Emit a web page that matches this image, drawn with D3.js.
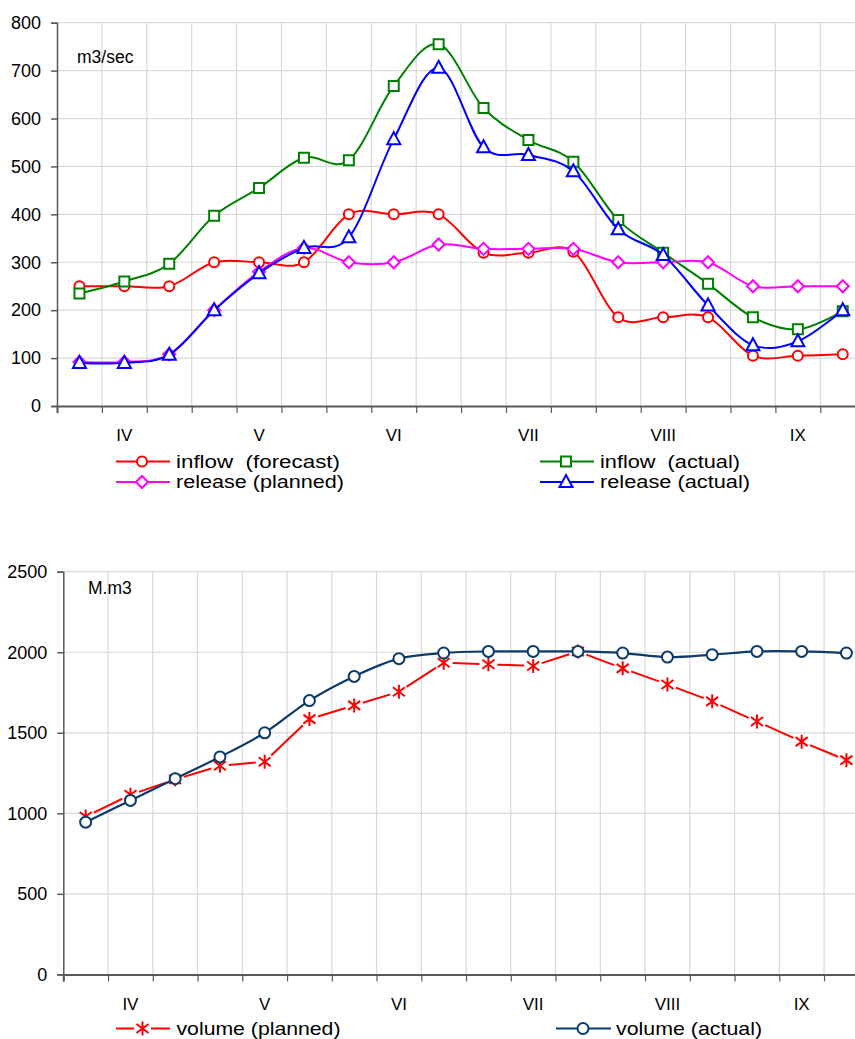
<!DOCTYPE html>
<html>
<head>
<meta charset="utf-8">
<script src="https://cdn.jsdelivr.net/npm/d3@7"></script>
<style>
  html, body { margin: 0; padding: 0; background: #fff; overflow: hidden; }
  svg { display: block; font-family: "Liberation Sans", Arial, sans-serif; }
</style>
</head>
<body>
<svg id="chart" width="855" height="1039"></svg>
<script>
// ---------- DATA ----------
const decades = ["IV-1","IV-2","IV-3","V-1","V-2","V-3","VI-1","VI-2","VI-3",
                 "VII-1","VII-2","VII-3","VIII-1","VIII-2","VIII-3","IX-1","IX-2","IX-3"];
const months = ["IV","V","VI","VII","VIII","IX"];

const inflowForecast = [250,250,250,300,300,300,400,400,400,320,320,322,185,185,185,105,105,108];
const inflowActual   = [235,260,297,397,455,518,513,668,755,622,555,510,388,320,255,185,160,198];
const releasePlanned = [92,92,108,200,280,330,300,300,337,328,328,328,300,300,300,250,250,250];
const releaseActual  = [90,90,107,200,277,330,352,557,706,540,524,490,369,315,210,127,135,200];

const volumePlanned = [980,1115,1210,1295,1320,1585,1670,1755,1935,1925,1915,2005,1900,1800,1695,1570,1445,1330];
const volumeActual  = [945,1080,1215,1350,1500,1700,1850,1960,1995,2005,2005,2005,1995,1970,1985,2005,2005,1995];

const flowTicks = [0,100,200,300,400,500,600,700,800];
const volTicks = [0,500,1000,1500,2000,2500];

const flowSeries = [
  {name:"inflow  (forecast)", values: inflowForecast, color:"#ff0000", marker:"circle"},
  {name:"inflow  (actual)",   values: inflowActual,   color:"#008000", marker:"square"},
  {name:"release (planned)",  values: releasePlanned, color:"#ff00ff", marker:"diamond"},
  {name:"release (actual)",   values: releaseActual,  color:"#0000ff", marker:"triangle"}
];

// ---------- SETUP ----------
const svg = d3.select("#chart");
const gridColor = "#d9d9d9";
const axisColor = "#595959";

function markerPath(type) {
  switch (type) {
    case "circle": return null;
    case "square": return "M-5,-5H5V5H-5Z";
    case "diamond": return "M0,-6L6,0L0,6L-6,0Z";
    case "triangle": return "M0,-7L6.5,5H-6.5Z";
    case "asterisk": return "M0,-7V7M-6,-4.5L6,4.5M-6,4.5L6,-4.5";
  }
}

function drawMarker(g, type, x, y, color, r) {
  if (type === "circle") {
    g.append("circle").attr("cx", x).attr("cy", y).attr("r", r || 5)
      .attr("fill", "#fff").attr("stroke", color).attr("stroke-width", 2);
  } else {
    g.append("path").attr("d", markerPath(type))
      .attr("transform", `translate(${x},${y})`)
      .attr("fill", type === "asterisk" ? "none" : "#fff")
      .attr("stroke", color).attr("stroke-width", 2);
  }
}

function frame(cfg) {
  const {left, step, topY, bottomY, yMax, yTicks, unit, unitX, unitY, monthY} = cfg;
  const right = left + step * decades.length;
  const x = d3.scaleBand().domain(decades).range([left, right]);
  const xi = d3.scaleLinear().domain([0, decades.length]).range([left, right]);
  const y = d3.scaleLinear().domain([0, yMax]).range([bottomY, topY]);
  const g = svg.append("g");

  // gridlines
  g.append("g").selectAll("line").data(yTicks.filter(d => d > 0)).join("line")
    .attr("x1", left).attr("x2", right).attr("y1", d => y(d)).attr("y2", d => y(d))
    .attr("stroke", gridColor).attr("stroke-width", 1.2);
  g.append("g").selectAll("line").data(d3.range(1, decades.length + 1)).join("line")
    .attr("x1", d => xi(d)).attr("x2", d => xi(d)).attr("y1", topY).attr("y2", bottomY)
    .attr("stroke", gridColor).attr("stroke-width", 1.2);

  // y axis
  const ya = g.append("g").attr("transform", `translate(${left},0)`)
    .call(d3.axisLeft(y).tickValues(yTicks).tickSize(6).tickPadding(10).tickFormat(d3.format("d")));
  ya.select(".domain").attr("stroke", axisColor).attr("stroke-width", 1.5);
  ya.selectAll(".tick line").attr("stroke", axisColor).attr("stroke-width", 1.5);
  ya.selectAll(".tick text").attr("font-size", 18).attr("fill", "#000")
    .attr("font-family", "Liberation Sans, Arial, sans-serif");

  // x axis
  const xa = g.append("g").attr("transform", `translate(0,${bottomY})`)
    .call(d3.axisBottom(xi).tickValues(d3.range(0, decades.length + 1)).tickFormat("").tickSize(7));
  xa.select(".domain").attr("stroke", axisColor).attr("stroke-width", 2);
  xa.selectAll(".tick line").attr("stroke", axisColor).attr("stroke-width", 1.2);

  // month labels
  g.append("g").selectAll("text").data(months).join("text")
    .attr("x", (d, i) => x(decades[3 * i + 1]) + x.bandwidth() / 2)
    .attr("y", monthY).attr("text-anchor", "middle")
    .attr("font-size", 17).attr("fill", "#000").text(d => d);

  // unit label
  g.append("text").attr("x", unitX).attr("y", unitY)
    .attr("font-size", 17.5).attr("fill", "#000").text(unit);

  return {x, y, g};
}

// ---------- TOP CHART ----------
const flowChart = frame({left: 57, step: 44.9, topY: 22.7, bottomY: 406, yMax: 800,
  yTicks: flowTicks, unit: "m3/sec", unitX: 77, unitY: 62.5, monthY: 441});

const smooth = d3.line().curve(d3.curveCardinal.tension(0));

flowSeries.forEach(s => {
  const pts = s.values.map((v, i) => [flowChart.x(decades[i]) + flowChart.x.bandwidth() / 2, flowChart.y(v)]);
  const sg = flowChart.g.append("g");
  sg.append("path").attr("d", smooth(pts)).attr("fill", "none")
    .attr("stroke", s.color).attr("stroke-width", 2);
  pts.forEach(p => drawMarker(sg, s.marker, p[0], p[1], s.color));
});

// top legend
const legendTop = [
  {s: flowSeries[0], lx: 116, ty: 467.5, w: 164},
  {s: flowSeries[2], lx: 116, ty: 488, w: 168},
  {s: flowSeries[1], lx: 540, ty: 467.5, w: 140},
  {s: flowSeries[3], lx: 540, ty: 488, w: 150}
];
legendTop.forEach(L => {
  const g = svg.append("g");
  const cy = L.ty - 6;
  g.append("line").attr("x1", L.lx).attr("x2", L.lx + 54).attr("y1", cy).attr("y2", cy)
    .attr("stroke", L.s.color).attr("stroke-width", 2);
  drawMarker(g, L.s.marker, L.lx + 26, cy, L.s.color);
  g.append("text").attr("x", L.lx + 60).attr("y", L.ty).attr("font-size", 17.5)
    .attr("fill", "#000").attr("textLength", L.w).attr("lengthAdjust", "spacingAndGlyphs")
    .style("white-space", "pre").text(L.s.name);
});

// ---------- BOTTOM CHART ----------
const volChart = frame({left: 63.3, step: 44.75, topY: 571.7, bottomY: 974.4, yMax: 2500,
  yTicks: volTicks, unit: "M.m3", unitX: 88, unitY: 594, monthY: 1010});

const planColor = "#ff0000";
const actColor = "#0b3a6b";

// planned: straight segments with gaps at markers
const pPts = volumePlanned.map((v, i) => [volChart.x(decades[i]) + volChart.x.bandwidth() / 2, volChart.y(v)]);
const pg = volChart.g.append("g");
const gap = 9;
for (let i = 0; i < pPts.length - 1; i++) {
  const [x1, y1] = pPts[i], [x2, y2] = pPts[i + 1];
  const len = Math.hypot(x2 - x1, y2 - y1);
  const ux = (x2 - x1) / len, uy = (y2 - y1) / len;
  pg.append("line").attr("x1", x1 + ux * gap).attr("y1", y1 + uy * gap)
    .attr("x2", x2 - ux * gap).attr("y2", y2 - uy * gap)
    .attr("stroke", planColor).attr("stroke-width", 2);
}
pPts.forEach(p => drawMarker(pg, "asterisk", p[0], p[1], planColor));

// actual: smooth
const aPts = volumeActual.map((v, i) => [volChart.x(decades[i]) + volChart.x.bandwidth() / 2, volChart.y(v)]);
const ag = volChart.g.append("g");
ag.append("path").attr("d", smooth(aPts)).attr("fill", "none")
  .attr("stroke", actColor).attr("stroke-width", 2.2);
aPts.forEach(p => drawMarker(ag, "circle", p[0], p[1], actColor, 5.5));

// bottom legend
(function() {
  const g = svg.append("g");
  const ty = 1035, cy = ty - 6.5;
  g.append("line").attr("x1", 116).attr("x2", 134).attr("y1", cy).attr("y2", cy)
    .attr("stroke", planColor).attr("stroke-width", 2);
  g.append("line").attr("x1", 151).attr("x2", 170).attr("y1", cy).attr("y2", cy)
    .attr("stroke", planColor).attr("stroke-width", 2);
  drawMarker(g, "asterisk", 142.5, cy, planColor);
  g.append("text").attr("x", 176.5).attr("y", ty).attr("font-size", 19)
    .attr("textLength", 164).attr("lengthAdjust", "spacingAndGlyphs")
    .text("volume (planned)");

  g.append("line").attr("x1", 556).attr("x2", 611).attr("y1", cy).attr("y2", cy)
    .attr("stroke", actColor).attr("stroke-width", 2);
  drawMarker(g, "circle", 583, cy, actColor, 5.5);
  g.append("text").attr("x", 616).attr("y", ty).attr("font-size", 19)
    .attr("textLength", 146).attr("lengthAdjust", "spacingAndGlyphs")
    .text("volume (actual)");
})();
</script>
</body>
</html>
